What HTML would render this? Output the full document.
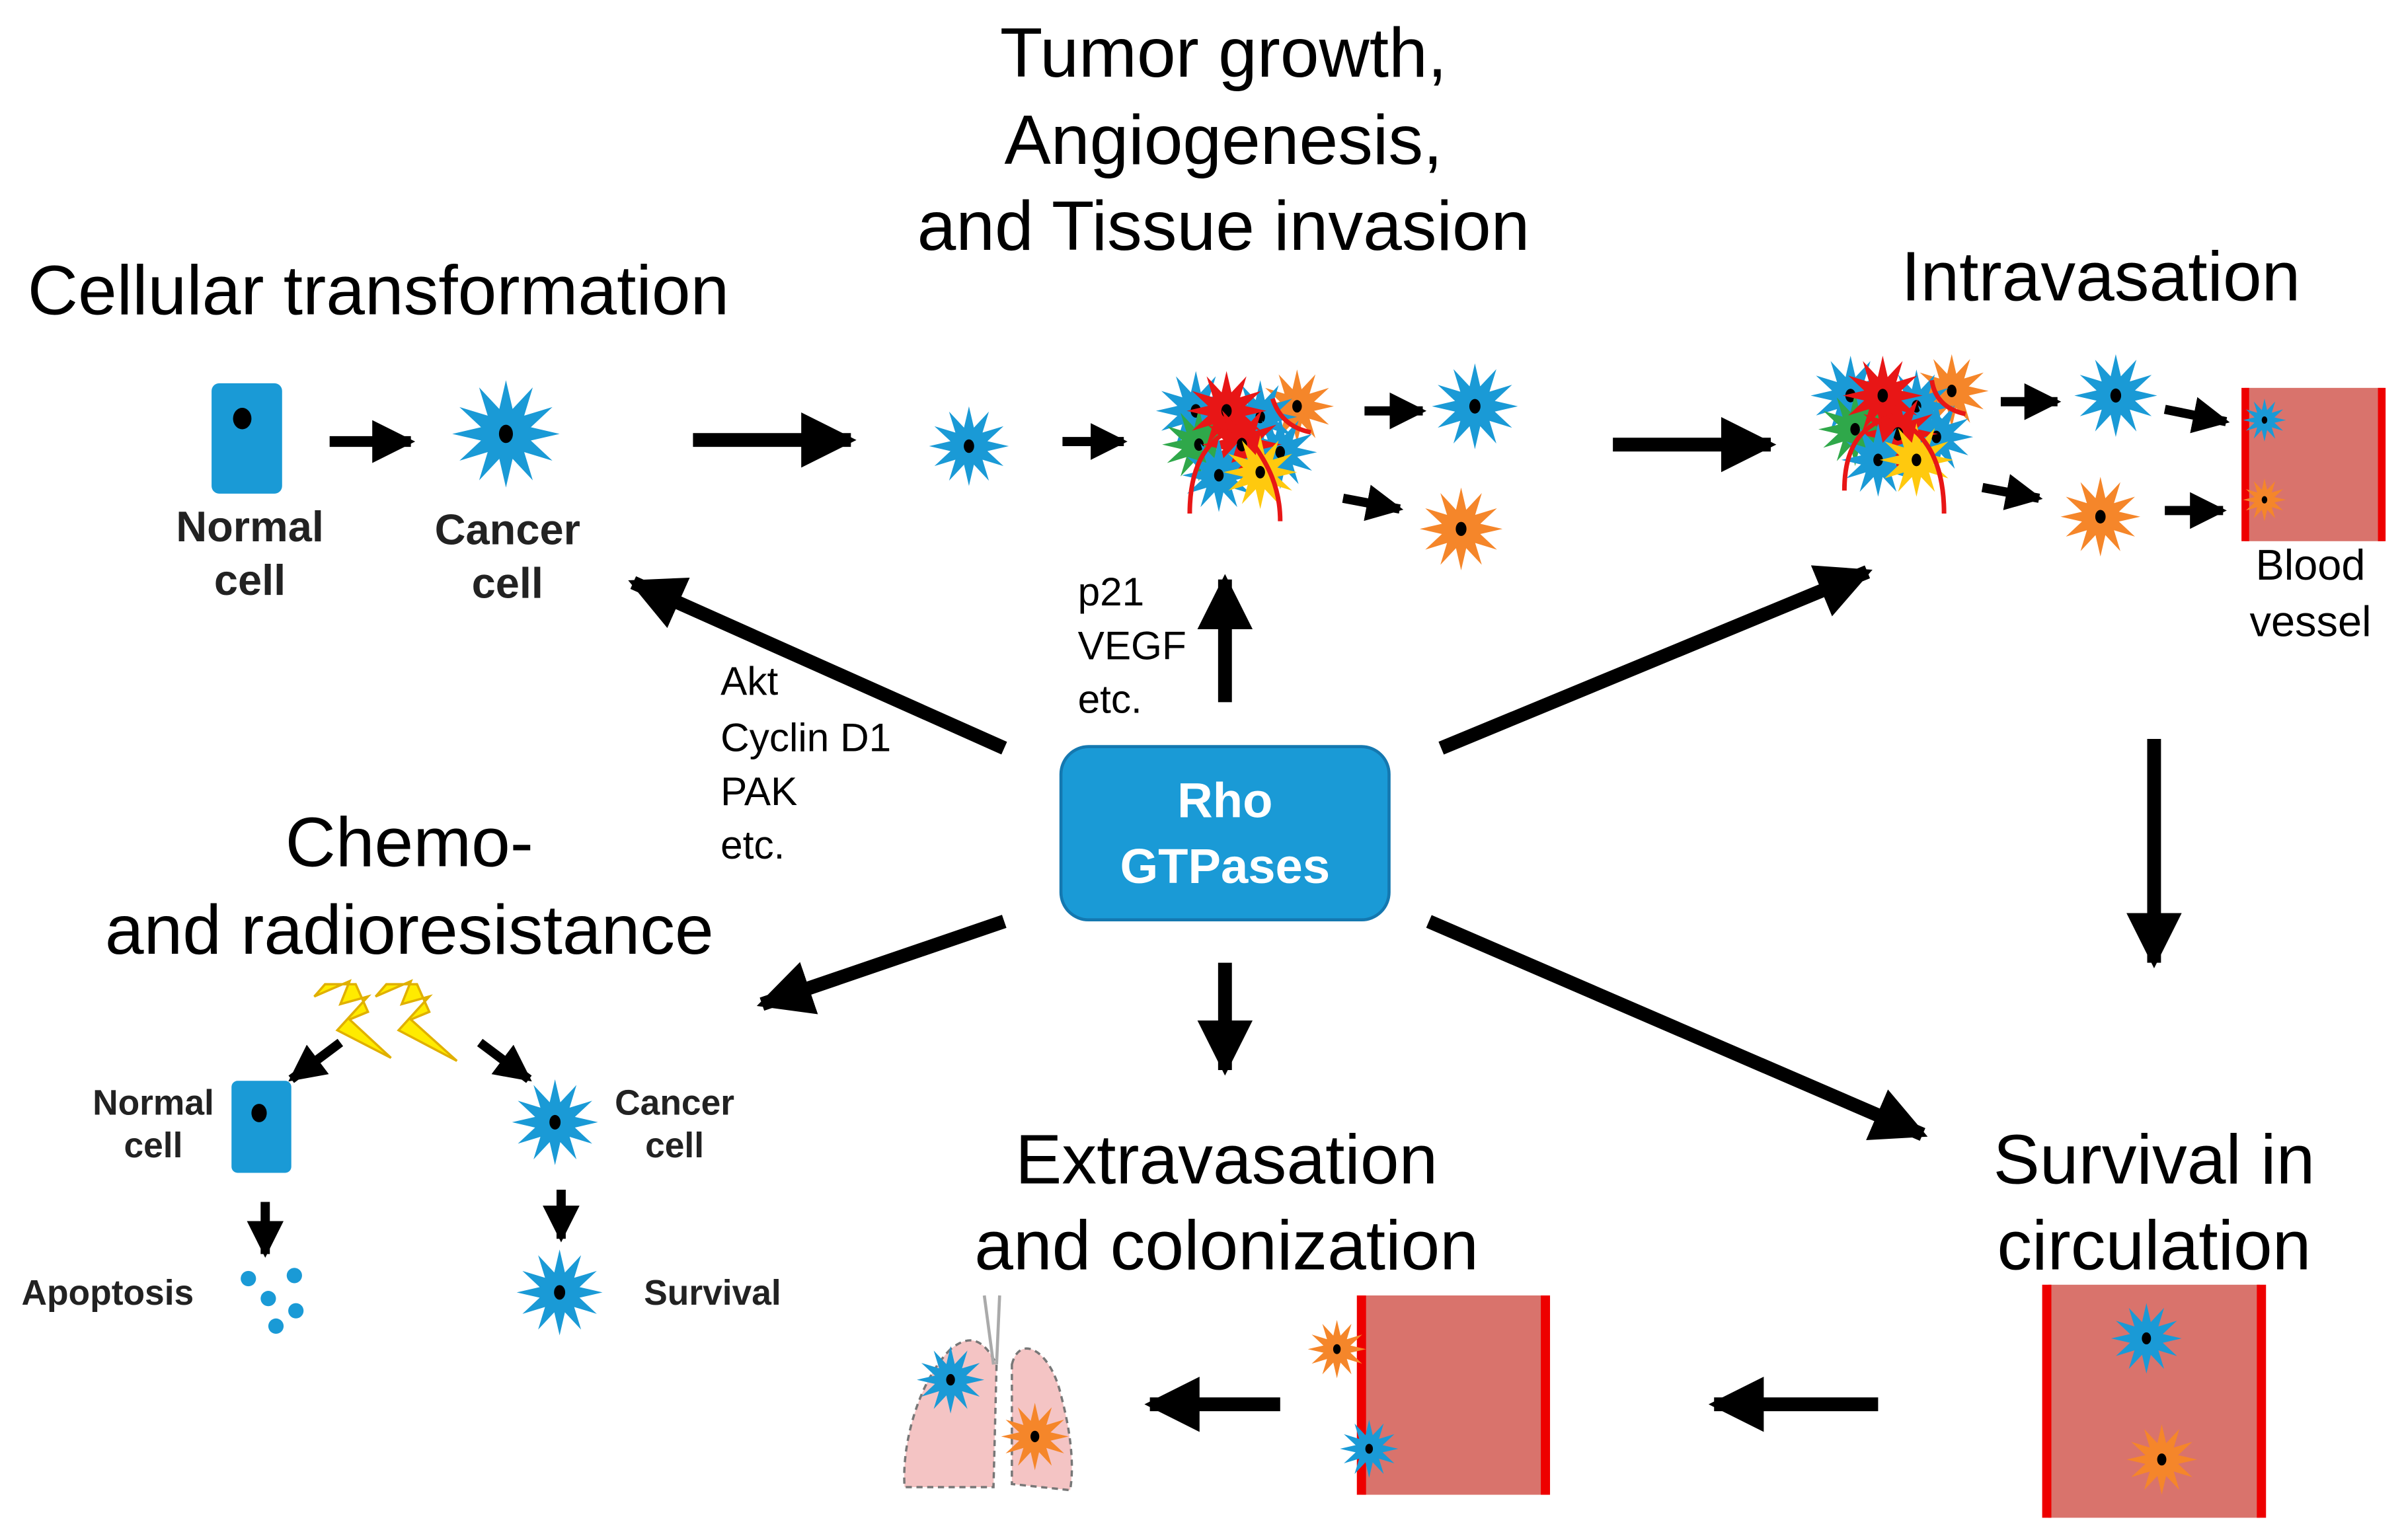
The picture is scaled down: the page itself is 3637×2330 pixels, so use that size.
<!DOCTYPE html>
<html><head><meta charset="utf-8"><style>html,body{margin:0;padding:0;background:#fff}svg{display:block}</style></head>
<body>
<svg width="3637" height="2330" viewBox="0 0 1568 1004.5" xmlns="http://www.w3.org/2000/svg" font-family="Liberation Sans, sans-serif">
<defs>
<marker id="ah" markerWidth="4" markerHeight="4" refX="3.6" refY="2" orient="auto" markerUnits="strokeWidth"><path d="M0,0 L4,2 L0,4 z" fill="#000"/></marker>
<g id="st"><polygon points="0,-1 0.124,-0.464 0.5,-0.866 0.34,-0.34 0.866,-0.5 0.464,-0.124 1,0 0.464,0.124 0.866,0.5 0.34,0.34 0.5,0.866 0.124,0.464 0,1 -0.124,0.464 -0.5,0.866 -0.34,0.34 -0.866,0.5 -0.464,0.124 -1,0 -0.464,-0.124 -0.866,-0.5 -0.34,-0.34 -0.5,-0.866 -0.124,-0.464"/><ellipse cx="0" cy="0" rx="0.13" ry="0.17" fill="#000"/></g>
</defs>
<rect width="1568" height="1004.5" fill="#fff"/>

<g font-size="45.5" fill="#000">
<text x="18" y="205">Cellular transformation</text>
<text x="798" y="50" text-anchor="middle">Tumor growth,</text>
<text x="798" y="107" text-anchor="middle">Angiogenesis,</text>
<text x="798" y="163" text-anchor="middle">and Tissue invasion</text>
<text x="1240" y="196">Intravasation</text>
<text x="267" y="565" text-anchor="middle">Chemo-</text>
<text x="267" y="622" text-anchor="middle">and radioresistance</text>
<text x="800" y="772" text-anchor="middle">Extravasation</text>
<text x="800" y="828" text-anchor="middle">and colonization</text>
<text x="1405" y="772" text-anchor="middle">Survival in</text>
<text x="1405" y="828" text-anchor="middle">circulation</text>
</g>

<rect x="138" y="250" width="46" height="72" rx="5" fill="#1a9ad6"/>
<ellipse cx="158" cy="273" rx="6" ry="7" fill="#000"/>
<use href="#st" transform="translate(330,283) scale(35)" fill="#1a9ad6"/>
<g font-size="28" font-weight="bold" fill="#222" text-anchor="middle">
<text x="163" y="353">Normal</text><text x="163" y="388">cell</text>
<text x="331" y="355">Cancer</text><text x="331" y="390">cell</text>
</g>

<g stroke="#000" fill="none" marker-end="url(#ah)">
<line x1="215" y1="288" x2="268" y2="288" stroke-width="7"/>
<line x1="452" y1="287" x2="555" y2="287" stroke-width="9"/>
<line x1="693" y1="288" x2="733" y2="288" stroke-width="6"/>
<line x1="890" y1="268" x2="928" y2="268" stroke-width="6"/>
<line x1="876" y1="325" x2="913" y2="332" stroke-width="6"/>
<line x1="1052" y1="290" x2="1155" y2="290" stroke-width="9"/>
<line x1="1305" y1="262" x2="1342" y2="262" stroke-width="6"/>
<line x1="1412" y1="267" x2="1452" y2="275" stroke-width="6"/>
<line x1="1293" y1="318" x2="1330" y2="325" stroke-width="6"/>
<line x1="1412" y1="333" x2="1450" y2="333" stroke-width="6"/>
<line x1="655" y1="488" x2="413" y2="380" stroke-width="9"/>
<line x1="799" y1="458" x2="799" y2="378" stroke-width="9"/>
<line x1="940" y1="488" x2="1218" y2="373" stroke-width="9"/>
<line x1="655" y1="601" x2="497" y2="655" stroke-width="9"/>
<line x1="799" y1="628" x2="799" y2="698" stroke-width="9"/>
<line x1="932" y1="601" x2="1254" y2="740" stroke-width="9"/>
<line x1="1405" y1="482" x2="1405" y2="628" stroke-width="9"/>
<line x1="835" y1="916" x2="750" y2="916" stroke-width="9"/>
<line x1="1225" y1="916" x2="1118" y2="916" stroke-width="9"/>
<line x1="222" y1="680" x2="190" y2="704" stroke-width="6"/>
<line x1="313" y1="680" x2="345" y2="704" stroke-width="6"/>
<line x1="173" y1="784" x2="173" y2="818" stroke-width="6"/>
<line x1="366" y1="776" x2="366" y2="808" stroke-width="6"/>
</g>

<use href="#st" transform="translate(632,291) scale(26)" fill="#1a9ad6"/>
<use href="#st" transform="translate(780,268) scale(26)" fill="#1a9ad6"/>
<use href="#st" transform="translate(846,265) scale(24)" fill="#f5862a"/>
<use href="#st" transform="translate(822,272) scale(24)" fill="#1a9ad6"/>
<use href="#st" transform="translate(782,290) scale(24)" fill="#2fa84a"/>
<use href="#st" transform="translate(800,268) scale(26)" fill="#e81616"/>
<use href="#st" transform="translate(835,295) scale(24)" fill="#1a9ad6"/>
<use href="#st" transform="translate(810,290) scale(26)" fill="#e81616"/>
<use href="#st" transform="translate(795,310) scale(24)" fill="#1a9ad6"/>
<use href="#st" transform="translate(822,308) scale(24)" fill="#ffc90e"/>
<path d="M776,335 C776,300 790,285 805,280 M835,340 C835,310 820,295 815,285 M830,260 C835,275 845,280 855,282" stroke="#e81616" stroke-width="3" fill="none"/>
<use href="#st" transform="translate(962,265) scale(28)" fill="#1a9ad6"/>
<use href="#st" transform="translate(953,345) scale(27)" fill="#f5862a"/>

<use href="#st" transform="translate(1207,258) scale(26)" fill="#1a9ad6"/>
<use href="#st" transform="translate(1273,255) scale(24)" fill="#f5862a"/>
<use href="#st" transform="translate(1250,265) scale(24)" fill="#1a9ad6"/>
<use href="#st" transform="translate(1210,280) scale(24)" fill="#2fa84a"/>
<use href="#st" transform="translate(1228,258) scale(26)" fill="#e81616"/>
<use href="#st" transform="translate(1263,285) scale(24)" fill="#1a9ad6"/>
<use href="#st" transform="translate(1238,283) scale(26)" fill="#e81616"/>
<use href="#st" transform="translate(1225,300) scale(24)" fill="#1a9ad6"/>
<use href="#st" transform="translate(1250,300) scale(24)" fill="#ffc90e"/>
<path d="M1203,320 C1203,290 1215,278 1232,272 M1268,335 C1268,300 1255,285 1245,278 M1260,248 C1262,262 1272,268 1282,270" stroke="#e81616" stroke-width="3" fill="none"/>
<use href="#st" transform="translate(1380,258) scale(27)" fill="#1a9ad6"/>
<use href="#st" transform="translate(1370,337) scale(26)" fill="#f5862a"/>
<rect x="1464" y="253" width="91" height="100" fill="#d9736c"/>
<rect x="1462" y="253" width="5" height="100" fill="#e00"/>
<rect x="1551" y="253" width="5" height="100" fill="#e00"/>
<use href="#st" transform="translate(1477,274) scale(14)" fill="#1a9ad6"/>
<use href="#st" transform="translate(1477,326) scale(14)" fill="#f5862a"/>
<g font-size="28" text-anchor="middle"><text x="1507" y="378">Blood</text><text x="1507" y="415">vessel</text></g>

<g font-size="26">
<text x="470" y="453">Akt</text><text x="470" y="490">Cyclin D1</text><text x="470" y="525">PAK</text><text x="470" y="560">etc.</text>
<text x="703" y="395">p21</text><text x="703" y="430">VEGF</text><text x="703" y="465">etc.</text>
</g>

<rect x="692" y="487" width="214" height="113" rx="18" fill="#1a9ad6" stroke="#1478b0" stroke-width="2"/>
<g font-size="32" font-weight="bold" fill="#fff" text-anchor="middle"><text x="799" y="533">Rho</text><text x="799" y="576">GTPases</text></g>

<polygon points="205,650 228,640 222,655 240,650 220,672 255,690 228,665 240,660 232,642 212,642" fill="#ffeb00" stroke="#e0b000" stroke-width="1.5"/>
<polygon points="245,650 268,640 262,655 280,650 260,672 298,692 268,665 280,660 272,642 252,642" fill="#ffeb00" stroke="#e0b000" stroke-width="1.5"/>
<rect x="151" y="705" width="39" height="60" rx="4" fill="#1a9ad6"/>
<ellipse cx="169" cy="726" rx="5" ry="6" fill="#000"/>
<use href="#st" transform="translate(362,732) scale(28)" fill="#1a9ad6"/>
<use href="#st" transform="translate(365,843) scale(28)" fill="#1a9ad6"/>
<g font-size="23" font-weight="bold" fill="#222">
<text x="100" y="727" text-anchor="middle">Normal</text><text x="100" y="755" text-anchor="middle">cell</text>
<text x="440" y="727" text-anchor="middle">Cancer</text><text x="440" y="755" text-anchor="middle">cell</text>
<text x="14" y="851">Apoptosis</text><text x="420" y="851">Survival</text>
</g>
<g fill="#1a9ad6"><circle cx="162" cy="834" r="5"/><circle cx="192" cy="832" r="5"/><circle cx="175" cy="847" r="5"/><circle cx="193" cy="855" r="5"/><circle cx="180" cy="865" r="5"/></g>

<rect x="888" y="845" width="122" height="130" fill="#d9736c"/>
<rect x="885" y="845" width="6" height="130" fill="#e00"/>
<rect x="1005" y="845" width="6" height="130" fill="#e00"/>
<use href="#st" transform="translate(872,880) scale(19)" fill="#f5862a"/>
<use href="#st" transform="translate(893,945) scale(19)" fill="#1a9ad6"/>
<path d="M620,880 C600,900 588,940 590,970 L648,970 L650,890 C640,870 630,872 620,880 Z" fill="#f4c4c4" stroke="#777" stroke-width="1.5" stroke-dasharray="4,3"/>
<path d="M660,890 C665,870 685,880 692,910 C700,940 700,960 698,972 L660,968 Z" fill="#f4c4c4" stroke="#777" stroke-width="1.5" stroke-dasharray="4,3"/>
<path d="M642,845 L648,890 M652,845 L650,890" stroke="#aaa" stroke-width="2"/>
<use href="#st" transform="translate(620,900) scale(22)" fill="#1a9ad6"/>
<use href="#st" transform="translate(675,937) scale(22)" fill="#f5862a"/>

<rect x="1336" y="838" width="138" height="152" fill="#d9736c"/>
<rect x="1332" y="838" width="6" height="152" fill="#e00"/>
<rect x="1472" y="838" width="6" height="152" fill="#e00"/>
<use href="#st" transform="translate(1400,873) scale(23)" fill="#1a9ad6"/>
<use href="#st" transform="translate(1410,952) scale(23)" fill="#f5862a"/>
</svg>
</body></html>
